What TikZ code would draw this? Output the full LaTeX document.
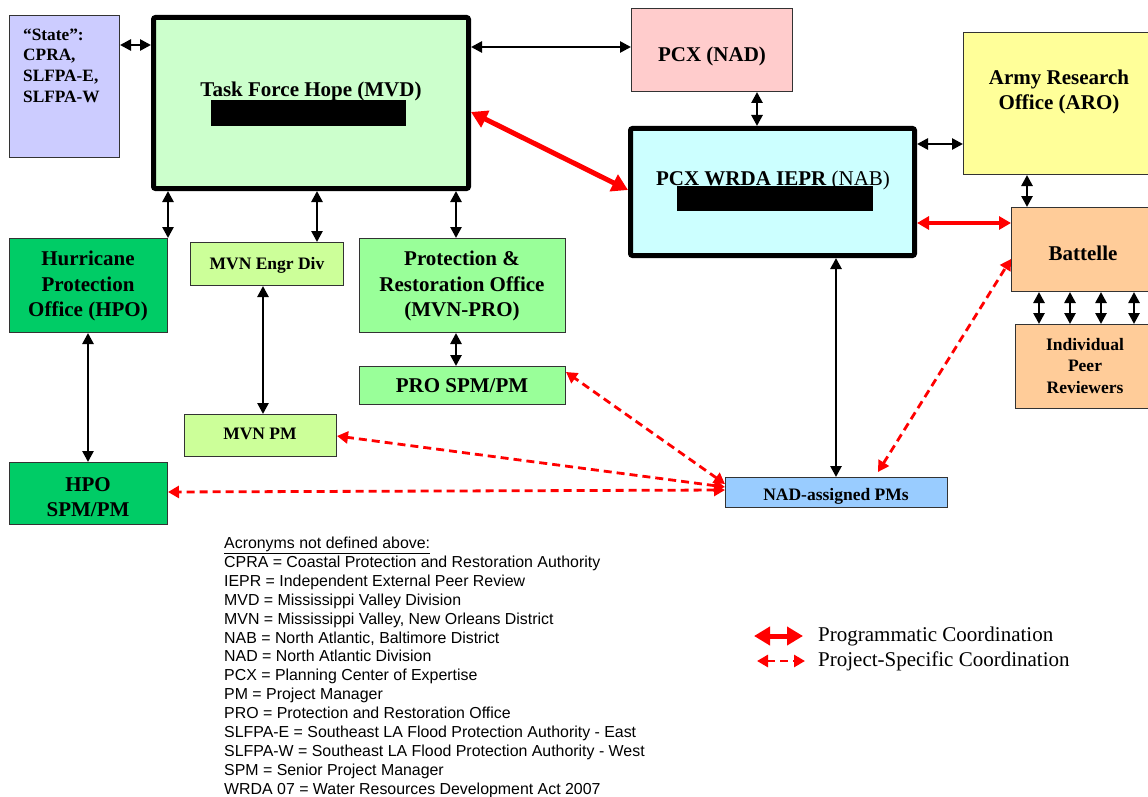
\documentclass[tikz,border=0pt]{standalone}
\usepackage{fontspec}
\setmainfont{Liberation Serif}
\newfontfamily\arialfont{Liberation Sans}
\usetikzlibrary{arrows.meta}
\definecolor{cState}{HTML}{CCCCFF}
\definecolor{cTFH}{HTML}{CCFFCC}
\definecolor{cNAD}{HTML}{FFCCCC}
\definecolor{cARO}{HTML}{FFFF99}
\definecolor{cPCX}{HTML}{CCFFFF}
\definecolor{cBat}{HTML}{FFCC99}
\definecolor{cHPO}{HTML}{00CC66}
\definecolor{cMVN}{HTML}{CCFF99}
\definecolor{cPRO}{HTML}{99FF99}
\definecolor{cNPM}{HTML}{99CCFF}
\definecolor{cEdge}{HTML}{333333}
\definecolor{cRed}{HTML}{FF0000}
\tikzset{
  box/.style={draw=cEdge, line width=1.3pt, anchor=north west, inner sep=0pt},
  bigbox/.style={draw=black, line width=5pt, rounded corners=2pt, anchor=north west, inner sep=0pt},
  ttl/.style={font=\fontsize{21}{25.5}\selectfont\bfseries, align=center, inner sep=0pt},
  sml/.style={font=\fontsize{17.5}{21.5}\selectfont\bfseries, align=center, inner sep=0pt},
  barrow/.style={{Triangle[length=11pt,width=11pt]}-{Triangle[length=11pt,width=11pt]}, line width=2.6pt, draw=black},
  rthick/.style={{Triangle[length=16pt,width=18pt]}-{Triangle[length=16pt,width=18pt]}, line width=5pt, draw=cRed},
  rmid/.style={{Triangle[length=12pt,width=13pt]}-{Triangle[length=12pt,width=13pt]}, line width=4pt, draw=cRed},
  rdash/.style={{Triangle[length=11pt,width=12pt]}-{Triangle[length=11pt,width=12pt]}, line width=2.8pt, draw=cRed, dash pattern=on 8pt off 5pt},
}
\begin{document}
\begin{tikzpicture}[x=1pt,y=-1pt]
\useasboundingbox (0,0) rectangle (1148,797);
\fill[white] (0,0) rectangle (1148,797);

% boxes
\node[box, fill=cState, minimum width=109.7pt, minimum height=141.7pt] (state) at (9,15) {};
\node[bigbox, fill=cTFH, minimum width=315pt, minimum height=171pt] (tfh) at (151,15) {};
\node[box, fill=cNAD, minimum width=160.7pt, minimum height=82.7pt] (pcxnad) at (631,8) {};
\node[box, fill=cARO, minimum width=200pt, minimum height=141.7pt] (aro) at (963,32) {};
\node[bigbox, fill=cPCX, minimum width=284pt, minimum height=127pt] (pcx) at (628,126) {};
\node[box, fill=cBat, minimum width=150pt, minimum height=83.7pt] (battelle) at (1011,207) {};
\node[box, fill=cBat, minimum width=150pt, minimum height=83.7pt] (ipr) at (1015,324) {};
\node[box, fill=cHPO, minimum width=157.7pt, minimum height=93.7pt] (hpo) at (9,238) {};
\node[box, fill=cHPO, minimum width=157.7pt, minimum height=61.7pt] (hposp) at (9,462) {};
\node[box, fill=cMVN, minimum width=152.7pt, minimum height=42.7pt] (mvneng) at (190,242) {};
\node[box, fill=cMVN, minimum width=151.7pt, minimum height=41.7pt] (mvnpm) at (184,414) {};
\node[box, fill=cPRO, minimum width=205.7pt, minimum height=93.7pt] (pro) at (359,238) {};
\node[box, fill=cPRO, minimum width=205.7pt, minimum height=37.7pt] (prosp) at (359,366) {};
\node[box, fill=cNPM, minimum width=221.7pt, minimum height=29.7pt] (nadpms) at (725,477) {};

% redactions
\fill[black] (211,100) rectangle (406,126);
\fill[black] (677,186) rectangle (873,211);

% texts
\node[font=\fontsize{17.3}{20.7}\selectfont\bfseries, align=left, inner sep=0pt, anchor=north west] (statetxt) at (23,28.5) {“State”:\\CPRA,\\SLFPA-E,\\SLFPA-W};
\node[ttl, anchor=base] (tfhtxt) at (311,97) {Task Force Hope (MVD)};
\node[ttl, anchor=base] (nadtxt) at (712,62) {PCX (NAD)};
\node[ttl] (arotxt) at (1059,92) {Army Research\\Office (ARO)};
\node[ttl, anchor=base] (pcxtxt) at (773,185) {PCX WRDA IEPR \mdseries(NAB)};
\node[ttl, anchor=base] (battxt) at (1083,260) {Battelle};
\node[sml] (iprtxt) at (1085,366) {Individual\\Peer\\Reviewers};
\node[ttl] (hpotxt) at (88,286) {Hurricane\\Protection\\Office (HPO)};
\node[ttl] (hpospt) at (88,497) {HPO\\SPM/PM};
\node[sml] (mvnengtxt) at (267,265) {MVN Engr Div};
\node[sml] (mvnpmtxt) at (260,434) {MVN PM};
\node[ttl] (protxt) at (462,286) {Protection \&\\Restoration Office\\(MVN-PRO)};
\node[ttl] (prosptxt) at (462,386) {PRO SPM/PM};
\node[sml] (nadpmtxt) at (836,496) {NAD-assigned PMs};

% helper coordinates
\coordinate (Y45) at (0,45);
\coordinate (Y47) at (0,47);
\coordinate (Y112) at (0,112);
\coordinate (Y144) at (0,144);
\coordinate (Y190) at (0,190);
\coordinate (Y223) at (0,223);
\coordinate (Y259) at (0,259);
\coordinate (Y372) at (0,372);
\coordinate (Y436) at (0,436);
\coordinate (Y484) at (0,484);
\coordinate (Y487) at (0,487);
\coordinate (Y490) at (0,490);
\coordinate (Y492) at (0,492);
\coordinate (X88) at (88,0);
\coordinate (X168) at (168,0);
\coordinate (X263) at (263,0);
\coordinate (X317) at (317,0);
\coordinate (X456) at (456,0);
\coordinate (X757) at (757,0);
\coordinate (X836) at (836,0);
\coordinate (X1027) at (1027,0);
\coordinate (nadtop) at (878,472);

% black connectors
\draw[barrow] (state.east |- Y45) -- (tfh.west |- Y45);
\draw[barrow] (tfh.east |- Y47) -- (pcxnad.west |- Y47);
\draw[barrow] (pcxnad.south -| X757) -- (pcx.north -| X757);
\draw[barrow] (pcx.east |- Y144) -- (aro.west |- Y144);
\draw[barrow] (aro.south -| X1027) -- (battelle.north -| X1027);
\foreach \xx in {1039,1070,1101,1134}{
  \coordinate (bx) at (\xx,0);
  \draw[barrow] (battelle.south -| bx) -- (ipr.north -| bx);
}
\draw[barrow] (tfh.south -| X168) -- (hpo.north -| X168);
\draw[barrow] (tfh.south -| X317) -- (mvneng.north -| X317);
\draw[barrow] (tfh.south -| X456) -- (pro.north -| X456);
\draw[barrow] (hpo.south -| X88) -- (hposp.north -| X88);
\draw[barrow] (mvneng.south -| X263) -- (mvnpm.north -| X263);
\draw[barrow] (pro.south -| X456) -- (prosp.north -| X456);
\draw[barrow] (pcx.south -| X836) -- (nadpms.north -| X836);

% red programmatic
\draw[rthick] (tfh.east |- Y112) -- (pcx.west |- Y190);
\draw[rmid] (pcx.east |- Y223) -- (battelle.west |- Y223);

% red project-specific
\draw[rdash] (nadpms.west |- Y490) -- (hposp.east |- Y492);
\draw[rdash] (nadpms.west |- Y487) -- (mvnpm.east |- Y436);
\draw[rdash] (nadpms.west |- Y484) -- (prosp.east |- Y372);
\draw[rdash] (nadtop) -- (battelle.west |- Y259);

% acronyms
\node[font=\arialfont\fontsize{15.9}{18.9}\selectfont, align=left, inner sep=0pt, anchor=north west] (acro) at (224,536.8) {%
\underline{Acronyms not defined above:}\\
CPRA = Coastal Protection and Restoration Authority\\
IEPR = Independent External Peer Review\\
MVD = Mississippi Valley Division\\
MVN = Mississippi Valley, New Orleans District\\
NAB = North Atlantic, Baltimore District\\
NAD = North Atlantic Division\\
PCX = Planning Center of Expertise\\
PM = Project Manager\\
PRO = Protection and Restoration Office\\
SLFPA-E = Southeast LA Flood Protection Authority - East\\
SLFPA-W = Southeast LA Flood Protection Authority - West\\
SPM = Senior Project Manager\\
WRDA 07 = Water Resources Development Act 2007};

% legend
\coordinate (l1a) at (754,636);
\coordinate (l1b) at (803,636);
\coordinate (l2a) at (757,661);
\coordinate (l2b) at (805,661);
\draw[rthick] (l1a) -- (l1b);
\draw[rdash] (l2a) -- (l2b);
\node[font=\fontsize{21}{25}\selectfont, anchor=west, inner sep=0pt] (leg1) at (818,636) {Programmatic Coordination};
\node[font=\fontsize{21}{25}\selectfont, anchor=west, inner sep=0pt] (leg2) at (818,661) {Project-Specific Coordination};
\end{tikzpicture}
\end{document}
